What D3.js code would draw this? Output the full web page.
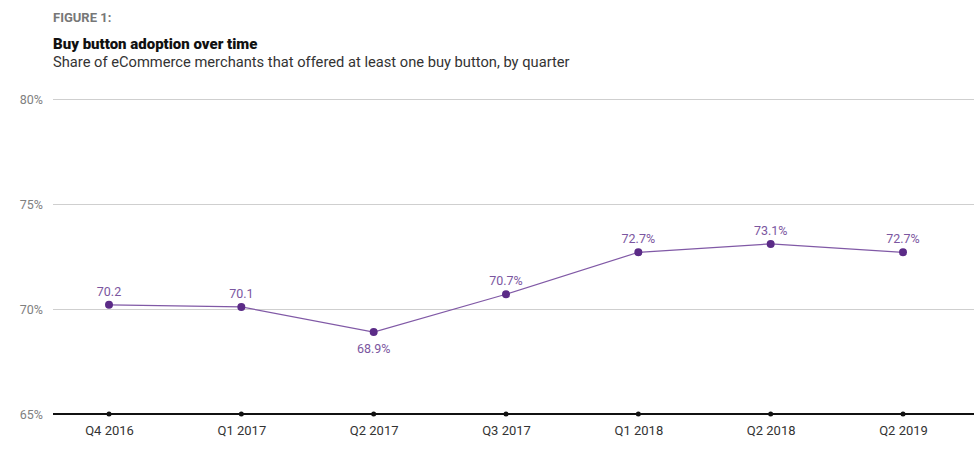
<!DOCTYPE html>
<html><head><meta charset="utf-8">
<script src="https://cdn.jsdelivr.net/npm/d3@7/dist/d3.min.js"></script>
<style>body{margin:0;background:#fff;}svg{display:block;}</style>
</head><body>
<svg id="c" width="974" height="474"></svg>
<script>
const categories = ["Q4 2016","Q1 2017","Q2 2017","Q3 2017","Q1 2018","Q2 2018","Q2 2019"];
const values = [70.2, 70.1, 68.9, 70.7, 72.7, 73.1, 72.7];
const valueLabels = ["70.2","70.1","68.9%","70.7%","72.7%","73.1%","72.7%"];
const labelBelow = [false,false,true,false,false,false,false];
const yTicks = [65, 70, 75, 80];

(function(){
const svg = d3.select("#c");
const mLeft = 53, mRight = 974, mTop = 99, mBottom = 414;
const x = d3.scalePoint().domain(categories).range([109, 903]);
const y = d3.scaleLinear().domain([65, 80]).range([mBottom, mTop]);
const font = "Roboto, 'Liberation Sans', sans-serif";

// titles
svg.append("text").attr("x", 53).attr("y", 22).text("FIGURE 1:")
  .attr("font-family", font).attr("font-weight", 700).attr("font-size", 13).attr("fill", "#777");
svg.append("text").attr("x", 53).attr("y", 49).text("Buy button adoption over time")
  .attr("font-family", font).attr("font-weight", 900).attr("font-size", 15).attr("fill", "#111");
svg.append("text").attr("x", 53).attr("y", 67).text("Share of eCommerce merchants that offered at least one buy button, by quarter")
  .attr("font-family", font).attr("font-size", 14.7).attr("fill", "#333");

// y grid + labels
const yAxis = d3.axisLeft(y).tickValues(yTicks).tickSize(-(mRight - mLeft)).tickFormat(d => d + "%").tickPadding(10);
const gy = svg.append("g").attr("transform", `translate(${mLeft},0)`).call(yAxis);
gy.select(".domain").remove();
gy.selectAll(".tick line").attr("stroke", "#cfcfcf").attr("stroke-width", 1);
gy.selectAll(".tick text").attr("font-family", font).attr("font-size", 12.5).attr("fill", "#808080");

// x axis
const gx = svg.append("g").attr("transform", `translate(0,${mBottom})`).call(d3.axisBottom(x).tickSize(0).tickPadding(12));
gx.select(".domain").remove();
gx.selectAll(".tick text").attr("font-family", font).attr("font-size", 13).attr("fill", "#333");
svg.append("line").attr("x1", mLeft).attr("x2", mRight).attr("y1", mBottom).attr("y2", mBottom)
  .attr("stroke", "#111").attr("stroke-width", 2);
svg.append("g").selectAll("circle").data(categories).join("circle")
  .attr("cx", d => x(d)).attr("cy", mBottom).attr("r", 2.5).attr("fill", "#111");

// line
const data = categories.map((c, i) => ({c, v: values[i], l: valueLabels[i], b: labelBelow[i]}));
svg.append("path").datum(data)
  .attr("d", d3.line().x(d => x(d.c)).y(d => y(d.v)))
  .attr("fill", "none").attr("stroke", "#8059a6").attr("stroke-width", 1.2);
svg.append("g").selectAll("circle").data(data).join("circle")
  .attr("cx", d => x(d.c)).attr("cy", d => y(d.v)).attr("r", 4).attr("fill", "#5b2b87");
svg.append("g").selectAll("text").data(data).join("text")
  .attr("x", d => x(d.c)).attr("y", d => y(d.v) + (d.b ? 21 : -9))
  .attr("text-anchor", "middle").text(d => d.l)
  .attr("font-family", font).attr("font-size", 12.5).attr("fill", "#7b56a0");
})();
</script>
</body></html>
